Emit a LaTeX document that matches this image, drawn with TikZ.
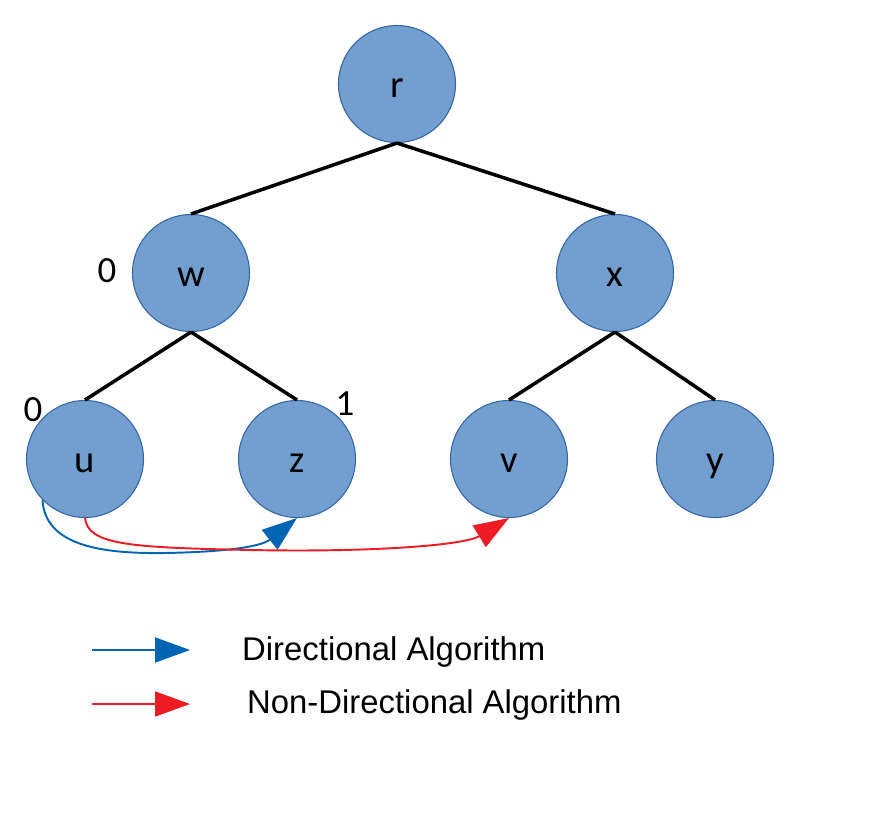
\documentclass[tikz,border=0pt]{standalone}
\usepackage{fontspec}
\setmainfont{Liberation Sans}
\newfontfamily\nodefont{Carlito}
\usetikzlibrary{arrows.meta}
\definecolor{nodefill}{HTML}{729FCF}
\definecolor{nodeline}{HTML}{3465A4}
\definecolor{dirblue}{HTML}{0066B3}
\definecolor{nondirred}{HTML}{ED1C24}
\begin{document}
\begin{tikzpicture}[
    tree node/.style={circle, draw=nodeline, line width=0.6pt, fill=nodefill, inner sep=0pt, minimum size=2.34cm, text height=14.8pt, text depth=0pt, font=\nodefont\fontsize{22}{26}\selectfont},
    tree label/.style={font=\nodefont\fontsize{21}{25}\selectfont},
    tree edge/.style={draw, line width=2pt},
    blue arrow/.style={draw=dirblue, line width=1.1pt, -{Triangle[length=0.7cm, width=0.5cm]}},
    red arrow/.style={draw=nondirred, line width=1.1pt, -{Triangle[length=0.7cm, width=0.5cm]}},
    legend text/.style={anchor=west, font=\fontsize{18.7}{22}\selectfont},
    ]
\useasboundingbox (0,0) rectangle (17.52,-16.8);
\node[tree node] (r) at (7.94,-1.68) {r};
\node[tree node] (w) at (3.82,-5.46) {w};
\node[tree node] (x) at (12.30,-5.46) {x};
\node[tree node] (u) at (1.70,-9.18) {u};
\node[tree node] (z) at (5.94,-9.18) {z};
\node[tree node] (v) at (10.18,-9.18) {v};
\node[tree node] (y) at (14.30,-9.18) {y};
\draw[tree edge] (r.south) -- (w.north);
\draw[tree edge] (r.south) -- (x.north);
\draw[tree edge] (w.south) -- (u.north);
\draw[tree edge] (w.south) -- (z.north);
\draw[tree edge] (x.south) -- (v.north);
\draw[tree edge] (x.south) -- (y.north);
\node[tree label] (wZero) at (2.14,-5.42) {0};
\node[tree label] (uZero) at (0.66,-8.20) {0};
\node[tree label] (zOne) at (6.90,-8.08) {1};
% paths from u
\draw[blue arrow] (u.224) .. controls (0.9,-10.9) and (2.0,-11.08) .. (3.3,-11.06)
    .. controls (4.4,-11.04) and (5.2,-10.95) .. (z.south);
\draw[red arrow] (u.south) .. controls (1.76,-10.9) and (2.6,-10.95) .. (5.0,-11.0)
    .. controls (7.5,-11.05) and (9.3,-10.9) .. (v.south);
% legend
\coordinate (dirStart) at (1.84,-13.0);
\coordinate (dirEnd) at (3.8,-13.0);
\coordinate (nondirStart) at (1.84,-14.08);
\coordinate (nondirEnd) at (3.8,-14.08);
\draw[blue arrow] (dirStart) -- (dirEnd);
\draw[red arrow] (nondirStart) -- (nondirEnd);
\node[legend text] (dirText) at (4.72,-13.04) {Directional Algorithm};
\node[legend text] (nondirText) at (4.82,-14.10) {Non-Directional Algorithm};
\end{tikzpicture}
\end{document}
